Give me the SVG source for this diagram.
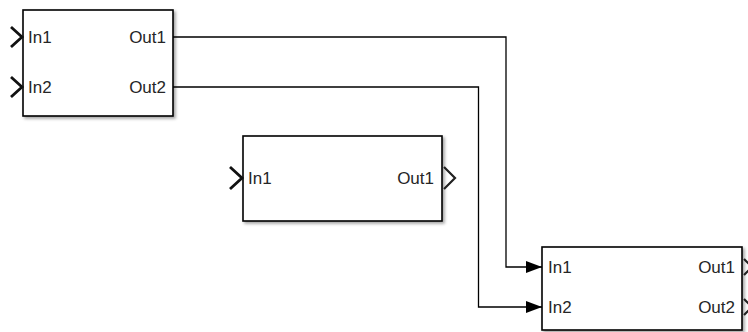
<svg xmlns="http://www.w3.org/2000/svg" width="748" height="332" viewBox="0 0 748 332">
<style>
.blk{fill:#fff;stroke:#000;stroke-width:1.6;filter:url(#sh)}
.lbl{font-family:"Liberation Sans",Arial,sans-serif;font-size:17px;fill:#262626}
.end{text-anchor:end}
.chev{fill:none;stroke:#111;stroke-width:2.8;stroke-linejoin:miter}
.chevo{fill:none;stroke:#222;stroke-width:2.2}
.wire{fill:none;stroke:#000;stroke-width:1.3;marker-end:url(#ah)}
</style>
<defs>
<filter id="sh" x="-10%" y="-10%" width="130%" height="130%">
<feDropShadow dx="2" dy="2" stdDeviation="1.5" flood-color="#000" flood-opacity="0.35"/>
</filter>
<marker id="ah" markerWidth="16" markerHeight="12" refX="16" refY="6" orient="auto" markerUnits="userSpaceOnUse">
<path d="M0,0 L16,6 L0,12 Z" fill="#000"/>
</marker>
</defs>
<g id="block1">
<rect class="blk" x="23" y="10" width="150" height="106"/>
<path class="chev" d="M11,27 L22,37 L11,47"/>
<path class="chev" d="M11,77 L22,87 L11,97"/>
<text class="lbl" x="28" y="43">In1</text>
<text class="lbl" x="28" y="93">In2</text>
<text class="lbl end" x="166" y="43">Out1</text>
<text class="lbl end" x="166" y="93">Out2</text>
</g>
<g id="block2">
<rect class="blk" x="243" y="136" width="199" height="85"/>
<path class="chev" d="M230,167 L242,178 L230,189"/>
<path class="chevo" d="M444,167 L455,178 L444,189"/>
<text class="lbl" x="248" y="184">In1</text>
<text class="lbl end" x="434" y="184">Out1</text>
</g>
<g id="block3">
<rect class="blk" x="542" y="247" width="200" height="83"/>
<path class="chevo" d="M744,259 L752,267 L744,275"/>
<path class="chevo" d="M744,299 L752,307 L744,315"/>
<text class="lbl" x="548" y="273">In1</text>
<text class="lbl" x="548" y="313">In2</text>
<text class="lbl end" x="735" y="273">Out1</text>
<text class="lbl end" x="735" y="313">Out2</text>
</g>
<g id="connectors">
<path class="wire" d="M173,37 H506 V267 H542"/>
<path class="wire" d="M173,87 H478.5 V307 H542"/>
</g>
</svg>
